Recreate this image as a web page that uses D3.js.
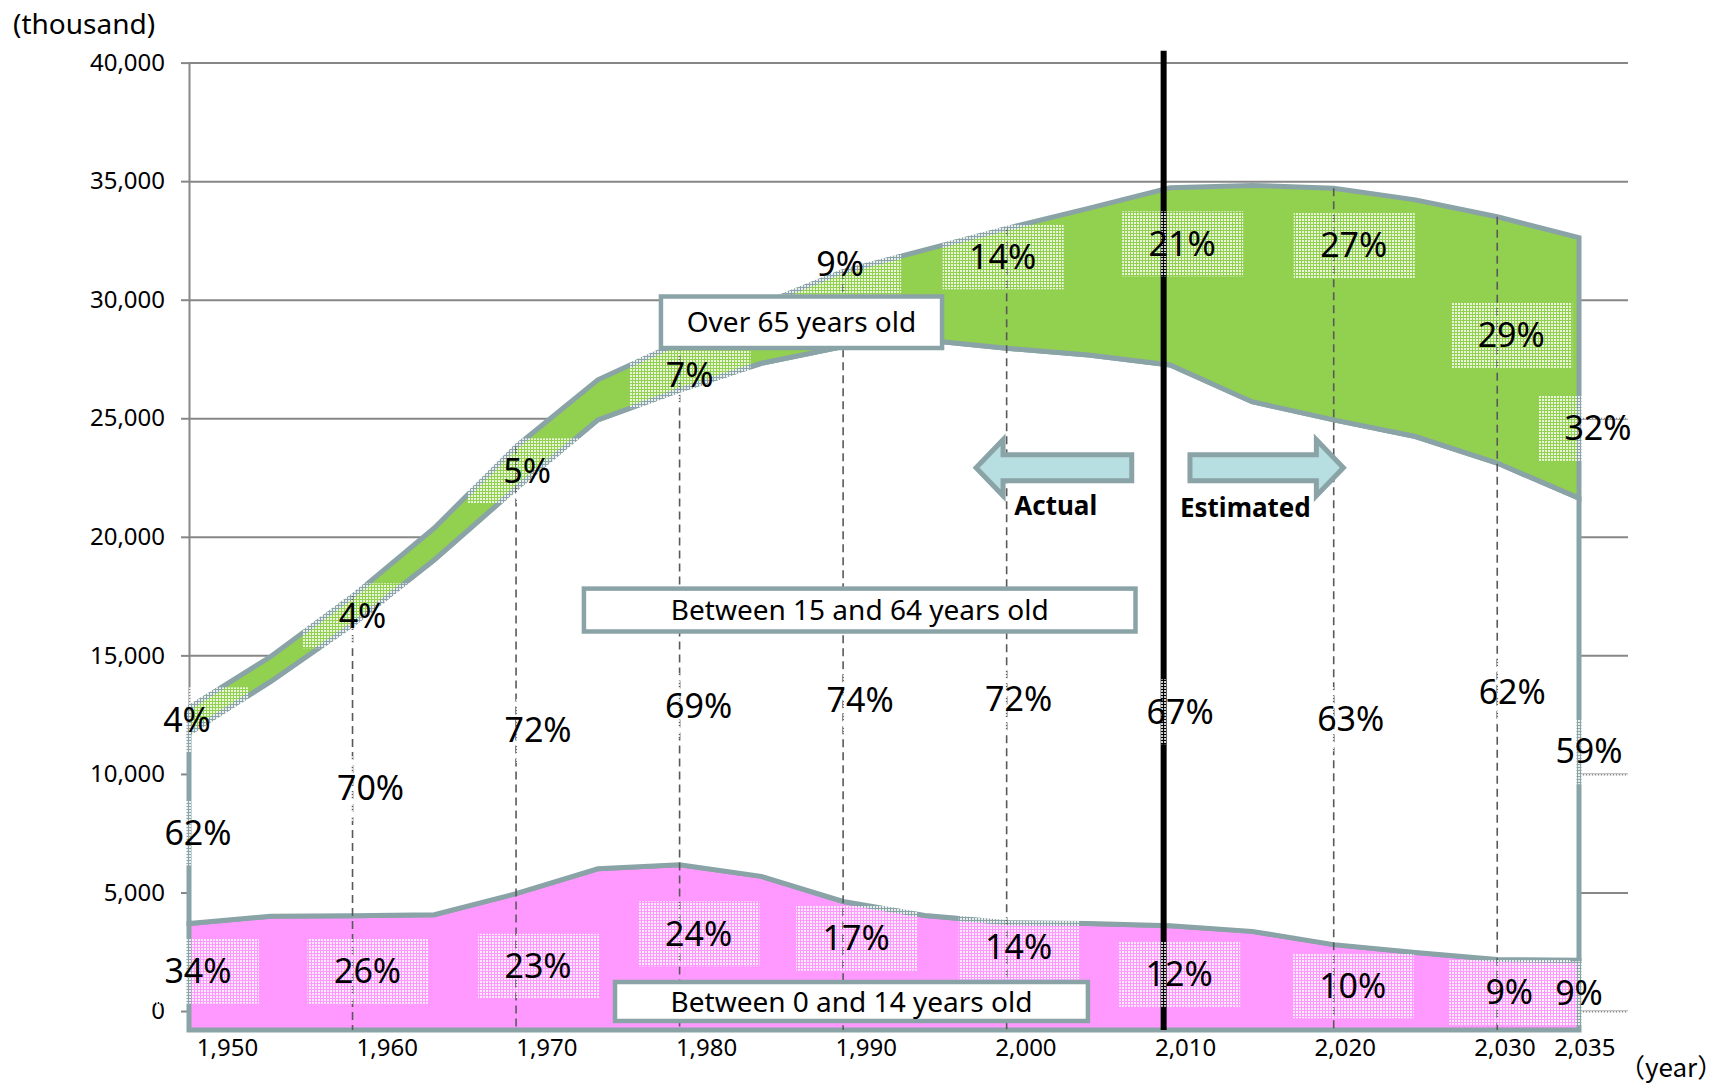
<!DOCTYPE html>
<html lang="en">
<head>
<meta charset="UTF-8">
<title>Population by age group, 1950-2035</title>
<script src="https://cdn.jsdelivr.net/npm/d3@7"></script>
<style>
body{
	margin:0;
	background:#fff;
}
svg{
	display:block;
	font-family:"Noto Sans",sans-serif;
}
.grid line{
	stroke:#878787;
	stroke-width:2px;
}
.yaxis path, .yaxis line{
	stroke:#878787;
	stroke-width:2px;
}
.yaxis text, .xaxis text{
	font-family:"Noto Sans",sans-serif;
	font-size:24px;
	fill:#000;
}
.band{
	stroke:#8aa3a6;
	stroke-width:5px;
}
.dash{
	stroke:#595959;
	stroke-width:1.6px;
	stroke-dasharray:8,5;
}
.pct{
	font-size:34px;
	text-anchor:middle;
	fill:#000;
}
.note rect{
	fill:#fff;
	stroke:#8aa3a6;
	stroke-width:4.5px;
}
.note text{
	font-size:28px;
	text-anchor:middle;
}
.arrow{
	fill:#b7dee0;
	stroke:#8aa3a6;
	stroke-width:5px;
}
.side{
	font-size:26px;
	font-weight:bold;
	text-anchor:middle;
}
</style>
</head>
<body>
<script>
// population in thousands, every 5 years
var years     = [1950, 1955, 1960, 1965, 1970, 1975, 1980, 1985, 1990, 1995, 2000, 2005, 2010, 2015, 2020, 2025, 2030, 2035];
var age0to14  = [3690, 4000, 4020, 4060, 4950, 6000, 6170, 5680, 4620, 4030, 3730, 3690, 3600, 3360, 2800, 2470, 2170, 2140];
var age15to64 = [8030, 9900, 12280, 14970, 17100, 18930, 20020, 21640, 23400, 24270, 24220, 23980, 23650, 22340, 22130, 21760, 20940, 19490];
var age65plus = [1080, 1050, 1200, 1340, 1760, 1690, 2010, 2480, 3180, 3800, 5060, 6180, 7470, 9120, 9770, 9980, 10390, 10990];

// share labels (%)
var labelYears = [1950, 1960, 1970, 1980, 1990, 2000, 2010, 2020, 2030, 2035];
var pct0to14   = [34, 26, 23, 24, 17, 14, 12, 10, 9, 9];
var pct15to64  = [62, 70, 72, 69, 74, 72, 67, 63, 62, 59];
var pct65plus  = [4, 4, 5, 7, 9, 14, 21, 27, 29, 32];

var yTicks    = [0, 5000, 10000, 15000, 20000, 25000, 30000, 35000, 40000];
var dashYears = [1960, 1970, 1980, 1990, 2000, 2020, 2030];
var splitYear = 2009.6;

// hand placement of the share labels, px from the band middle
var labelNudge = {
	kids:[[9,-6],[15,-2],[22,4],[19,-14],[13,-28],[12,-30],[9,-4],[19,-2],[12,-3],[0,-2]],
	work:[[9,4],[18,18],[22,39],[19,78],[17,76],[12,63],[10,66],[17,36],[15,-20],[10,22]],
	old:[[-2,-1],[10,5],[11,3],[10,9],[-3,-45],[-4,-32],[12,-33],[20,-59],[14,-5],[19,60]]
};

var W = 1722, H = 1085;
var yFloor = -800, gridRight = 1628;
var x = d3.scaleLinear().domain([1950, 2035]).range([189, 1579]);
var xLab = d3.scaleLinear().domain([1950, 2035]).range([227, 1584.3]);
var y = d3.scaleLinear().domain([yFloor, 40000]).range([1030, 62.6]);

var svg = d3.select("body").append("svg").attr("width", W).attr("height", H);

var pat = svg.append("defs").append("pattern").attr("id", "dots")
	.attr("patternUnits", "userSpaceOnUse").attr("width", 3).attr("height", 3);
pat.append("rect").attr("width", 2).attr("height", 2).attr("fill", "#fff").attr("fill-opacity", 0.8);

// gridlines and y axis
svg.append("g").attr("class", "grid").attr("transform", "translate(" + x(1950) + ",0)")
	.call(d3.axisLeft(y).tickValues(yTicks).tickSize(-(gridRight - x(1950))).tickFormat(""))
	.call(function(g){ g.select(".domain").remove(); });

svg.append("g").attr("class", "yaxis").attr("transform", "translate(" + x(1950) + ",0)")
	.call(d3.axisLeft(y).tickValues(yTicks).tickSize(8).tickSizeOuter(0).tickPadding(16).tickFormat(d3.format(",")));

svg.append("g").attr("class", "xaxis").attr("transform", "translate(0," + y(yFloor) + ")")
	.call(d3.axisBottom(xLab).tickValues(labelYears).tickSize(0).tickPadding(9).tickFormat(d3.format(",")))
	.call(function(g){ g.select(".domain").remove(); });

svg.append("text").attr("x", 13).attr("y", 34).attr("font-size", 28).text("(thousand)");
svg.append("text").attr("x", 1619).attr("y", 1077).attr("font-size", 26)
	.attr("font-family", "'Noto Sans CJK JP',sans-serif").text("（year）");

// stacked bands
var rows = years.map(function(yr, i){
	return {year:yr, kids:age0to14[i], work:age15to64[i], old:age65plus[i]};
});
var keys = ["kids", "work", "old"];
var fills = {kids:"#ff99ff", work:"#ffffff", old:"#92d050"};
var series = d3.stack().keys(keys)(rows);

svg.append("g").selectAll("path").data(series).join("path")
	.attr("class", "band")
	.attr("fill", function(s){ return fills[s.key]; })
	.attr("d", function(s, i){
		return d3.area()
			.x(function(d){ return x(d.data.year); })
			.y0(function(d){ return i === 0 ? y(yFloor) : y(d[0]); })
			.y1(function(d){ return y(d[1]); })(s);
	});

function totalAt(yr){
	var r = rows[years.indexOf(yr)];
	return r.kids + r.work + r.old;
}

svg.append("g").selectAll("line").data(dashYears).join("line")
	.attr("class", "dash")
	.attr("x1", function(d){ return x(d); }).attr("x2", function(d){ return x(d); })
	.attr("y1", function(d){ return y(totalAt(d)); }).attr("y2", y(yFloor));

svg.append("line")
	.attr("x1", x(splitYear)).attr("x2", x(splitYear))
	.attr("y1", y(40500)).attr("y2", y(yFloor))
	.attr("stroke", "#000").attr("stroke-width", 6);

// share labels with their dotted boxes
var pcts = {kids:pct0to14, work:pct15to64, old:pct65plus};
var labels = [];
series.forEach(function(s, k){
	labelYears.forEach(function(yr, i){
		var d = s[years.indexOf(yr)];
		var lo = k === 0 ? y(yFloor) : y(d[0]);
		var nd = labelNudge[s.key][i];
		labels.push({
			cx: x(yr) + nd[0],
			cy: (lo + y(d[1])) / 2 + nd[1],
			t: pcts[s.key][i] + "%"
		});
	});
});

svg.append("g").selectAll("rect").data(labels).join("rect")
	.attr("x", function(d){ return d.cx - 60; }).attr("y", function(d){ return d.cy - 32; })
	.attr("width", 121).attr("height", 65).attr("fill", "url(#dots)");

svg.append("g").selectAll("text").data(labels).join("text")
	.attr("class", "pct")
	.attr("x", function(d){ return d.cx; }).attr("y", function(d){ return d.cy; })
	.attr("dy", "0.36em")
	.text(function(d){ return d.t; });

// group name boxes
var notes = [
	{t:"Over 65 years old", x0:1978.86, x1:1996.05, v0:30135, v1:27963},
	{t:"Between 15 and 64 years old", x0:1974.15, x1:2007.88, v0:17816, v1:16007},
	{t:"Between 0 and 14 years old", x0:1976.05, x1:2004.97, v0:1224, v1:-420}
];
var note = svg.append("g").attr("class", "note").selectAll("g").data(notes).join("g");
note.append("rect")
	.attr("x", function(d){ return x(d.x0); }).attr("y", function(d){ return y(d.v0); })
	.attr("width", function(d){ return x(d.x1) - x(d.x0); })
	.attr("height", function(d){ return y(d.v1) - y(d.v0); });
note.append("text")
	.attr("x", function(d){ return (x(d.x0) + x(d.x1)) / 2; })
	.attr("y", function(d){ return (y(d.v0) + y(d.v1)) / 2; })
	.attr("dy", "0.36em")
	.text(function(d){ return d.t; });

// actual / estimated arrows
function arrow(tail, tip, cy){
	var dir = tip < tail ? 1 : -1, neck = tip + dir * 27, b = 13, h = 28;
	return "M" + tail + "," + (cy - b) + "L" + neck + "," + (cy - b) + "L" + neck + "," + (cy - h) +
		"L" + tip + "," + cy + "L" + neck + "," + (cy + h) + "L" + neck + "," + (cy + b) +
		"L" + tail + "," + (cy + b) + "Z";
}
var arrowV = 22915;
svg.append("path").attr("class", "arrow").attr("d", arrow(x(2007.65), x(1998.13), y(arrowV)));
svg.append("path").attr("class", "arrow").attr("d", arrow(x(2011.21), x(2020.59), y(arrowV)));
svg.append("text").attr("class", "side").attr("x", x(2003.0)).attr("y", y(20920)).text("Actual");
svg.append("text").attr("class", "side").attr("x", x(2014.6)).attr("y", y(20850)).text("Estimated");
</script>
</body>
</html>
